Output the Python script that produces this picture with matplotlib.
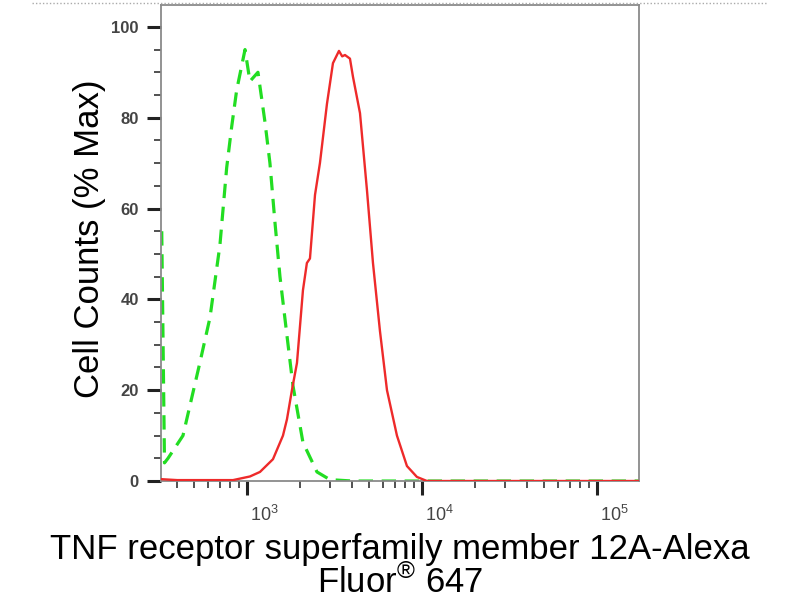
import numpy as np
import matplotlib
matplotlib.use("Agg")
import matplotlib.pyplot as plt
import matplotlib.transforms as mtransforms
from matplotlib.ticker import LogLocator, FixedLocator, MultipleLocator
from matplotlib.lines import Line2D

# isotype control (green dashed)
ctrl_x = [326, 338, 354, 431, 538, 615, 701, 766, 818, 873, 975, 1040, 1156,
          1268, 1353, 1445, 1544, 1693, 1832, 2089, 2512, 2979, 4000, 10000, 174000]
ctrl_y = [55, 4, 5, 10, 26, 36, 52, 69, 78, 86, 95, 88, 90,
          79, 70, 57, 45, 32, 21, 8.5, 2, 0.3, 0, 0, 0]

# TNFRSF12A stained (red solid)
stain_x = [326, 400, 600, 832, 1040, 1187, 1408, 1606, 1693, 1807, 1931, 2089, 2200,
           2291, 2448, 2612, 2864, 3100, 3355, 3500, 3631, 3877, 4034, 4424, 4850,
           5248, 5754, 6310, 7194, 8204, 9354, 10680, 174000]
stain_y = [0.4, 0.2, 0.2, 0.2, 1, 2, 4.8, 10, 13.6, 20, 26, 42, 48,
           49, 63, 70, 83, 92, 94.7, 93.5, 93.8, 93, 89, 81, 64,
           48, 33, 20, 10, 3.3, 0.9, 0, 0]

y_ticks = [0, 20, 40, 60, 80, 100]

xlabel = "TNF receptor superfamily member 12A-Alexa\nFluor$^{\u00ae}$ 647"
ylabel = "Cell Counts (% Max)"

plt.rcParams['font.family'] = ['Liberation Sans', 'DejaVu Sans']
plt.rcParams['mathtext.fontset'] = 'custom'
plt.rcParams['mathtext.rm'] = 'Liberation Sans'

fig = plt.figure(figsize=(8, 6), dpi=100)
ax = fig.add_axes([0.2013, 0.1983, 0.5975, 0.7933])

ax.plot(ctrl_x, ctrl_y, color='#22dd22', lw=2.3, dashes=(4.5, 2.7), zorder=2)
ax.plot(stain_x, stain_y, color='#ee2a2a', lw=1.7, zorder=3)

ax.set_xscale('log')
ax.set_xlim(323, 173800)
ax.set_ylim(0, 104.8)

ax.xaxis.set_major_locator(FixedLocator([1e3, 1e4, 1e5]))
ax.xaxis.set_minor_locator(LogLocator(base=10, subs=np.arange(2, 10)))
ax.yaxis.set_major_locator(FixedLocator(y_ticks))
ax.yaxis.set_minor_locator(MultipleLocator(5))

for s in ax.spines.values():
    s.set_color('#8a8a8a')
    s.set_linewidth(1.3)

ax.tick_params(axis='both', which='major', direction='out', length=10, width=2.2,
               color='#222222', labelsize=12, labelcolor='#444444')
ax.tick_params(axis='both', which='minor', direction='out', length=5, width=1.2,
               color='#333333')
ax.tick_params(axis='x', which='major', pad=7, labelsize=13)
ax.tick_params(axis='y', which='major', pad=6)
for lab in ax.get_yticklabels():
    lab.set_fontweight('bold')
shift = mtransforms.ScaledTranslation(2 / 72, 0, fig.dpi_scale_trans)
for lab in ax.get_xticklabels():
    lab.set_horizontalalignment('left')
    lab.set_transform(lab.get_transform() + shift)

ax.set_xlabel(xlabel, fontsize=25, linespacing=0.95, labelpad=6)
ax.set_ylabel(ylabel, fontsize=25)
ax.yaxis.set_label_coords(-0.115, 0.51)

# dotted rule at the very top of the image
fig.add_artist(Line2D([0.04, 0.96], [0.995, 0.995], transform=fig.transFigure,
                      color='#aaaaaa', lw=1, ls=(0, (1, 1.5))))

fig.savefig('out.png', dpi=100)
